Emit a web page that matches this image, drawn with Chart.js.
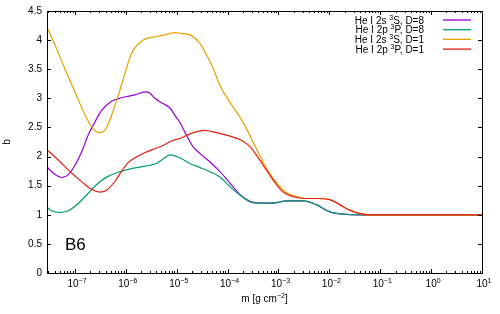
<!DOCTYPE html>
<html>
<head>
<meta charset="utf-8">
<script src="https://cdn.jsdelivr.net/npm/chart.js@4"></script>
<style>
  body { margin: 0; background: #fff; }
</style>
</head>
<body>
<canvas id="bgraph" width="500" height="314"></canvas>
<script>
// log10(m) and b values
const purpleLogM = [-7.55, -7.39, -7.26, -7.13, -7.00, -6.87, -6.74, -6.61, -6.48, -6.28, -6.09, -5.82, -5.62, -5.53, -5.43, -5.27, -5.13, -5.00, -4.94, -4.81, -4.68, -4.54, -4.35, -4.15, -3.95, -3.76, -3.56, -3.37, -3.17, -2.97, -2.84, -2.51, -2.25, -1.99, -1.73, -1.40, 1.0];
const purpleB    = [1.82, 1.69, 1.64, 1.69, 1.85, 2.08, 2.37, 2.59, 2.79, 2.95, 3.01, 3.06, 3.11, 3.09, 3.00, 2.91, 2.83, 2.66, 2.59, 2.37, 2.17, 2.05, 1.91, 1.74, 1.54, 1.35, 1.23, 1.20, 1.20, 1.22, 1.24, 1.24, 1.17, 1.05, 1.01, 1.0, 1.0];

const greenLogM = [-7.55, -7.46, -7.30, -7.13, -6.94, -6.74, -6.61, -6.48, -6.35, -6.15, -5.95, -5.72, -5.52, -5.38, -5.25, -5.13, -4.94, -4.74, -4.54, -4.35, -4.15, -3.95, -3.76, -3.56, -3.37, -3.17, -2.97, -2.84, -2.51, -2.25, -1.99, -1.73, -1.40, 1.0];
const greenB    = [1.13, 1.07, 1.04, 1.07, 1.19, 1.37, 1.49, 1.59, 1.66, 1.73, 1.78, 1.82, 1.85, 1.89, 1.97, 2.03, 1.98, 1.88, 1.81, 1.74, 1.65, 1.48, 1.34, 1.22, 1.20, 1.20, 1.22, 1.24, 1.24, 1.17, 1.05, 1.01, 1.0, 1.0];

const orangeLogM = [-7.55, -7.39, -7.20, -7.00, -6.80, -6.67, -6.54, -6.41, -6.28, -6.15, -6.02, -5.89, -5.66, -5.47, -5.27, -5.04, -4.88, -4.74, -4.54, -4.41, -4.28, -4.15, -4.02, -3.89, -3.76, -3.63, -3.50, -3.37, -3.23, -3.10, -2.97, -2.84, -2.71, -2.45, -2.25, -1.99, -1.79, -1.60, -1.40, -1.20, 1.0];
const orangeB    = [4.22, 3.91, 3.51, 3.11, 2.71, 2.51, 2.41, 2.45, 2.71, 3.05, 3.42, 3.77, 4.00, 4.05, 4.08, 4.13, 4.11, 4.09, 3.94, 3.74, 3.51, 3.22, 3.02, 2.85, 2.68, 2.48, 2.25, 2.02, 1.79, 1.62, 1.48, 1.38, 1.33, 1.28, 1.28, 1.26, 1.17, 1.08, 1.02, 1.0, 1.0];

const redLogM = [-7.55, -7.33, -7.07, -6.87, -6.70, -6.51, -6.38, -6.21, -6.09, -5.95, -5.82, -5.62, -5.45, -5.27, -5.07, -4.94, -4.74, -4.45, -4.22, -3.95, -3.73, -3.56, -3.43, -3.30, -3.17, -3.04, -2.91, -2.71, -2.45, -2.25, -1.99, -1.79, -1.60, -1.40, -1.20, 1.0];
const redB    = [2.12, 1.94, 1.72, 1.57, 1.45, 1.39, 1.42, 1.58, 1.74, 1.90, 1.98, 2.07, 2.13, 2.19, 2.28, 2.31, 2.39, 2.45, 2.41, 2.35, 2.28, 2.17, 2.02, 1.85, 1.68, 1.52, 1.39, 1.31, 1.28, 1.28, 1.26, 1.17, 1.08, 1.02, 1.0, 1.0];

// legend entries: [before superscript, superscript, after]
const labels = [["He I 2s ", "3", "S, D=8"], ["He I 2p ", "3", "P, D=8"], ["He I 2s ", "3", "S, D=1"], ["He I 2p ", "3", "P, D=1"]];
const colors = ["#9400d3", "#009e73", "#e69f00", "#e51e10"];

const xTickExps = [-7, -6, -5, -4, -3, -2, -1, 0, 1];
const yTicks = [0, 0.5, 1, 1.5, 2, 2.5, 3, 3.5, 4, 4.5];

const font = "'Liberation Sans', Arial, sans-serif";

function pts(logm, b) {
    return logm.map((e, i) => ({x: Math.pow(10, e), y: b[i]}));
}

// text with superscript parts; parts = [[text, isSup], ...]
function supText(ctx, parts, x, y, align) {
    const w = parts.map(p => {
        ctx.font = (p[1] ? "7px " : "10px ") + font;
        return ctx.measureText(p[0]).width;
    });
    const total = w.reduce((s, v) => s + v, 0);
    let cx = align === "right" ? x - total : align === "center" ? x - total / 2 : x;
    ctx.textAlign = "left";
    ctx.textBaseline = "alphabetic";
    parts.forEach((p, i) => {
        ctx.font = (p[1] ? "7px " : "10px ") + font;
        ctx.fillText(p[0], cx, p[1] ? y - 4 : y);
        cx += w[i];
    });
}

// frame, inward ticks on all sides, x labels, legend and panel label
const decorations = {
    id: "decorations",
    afterDatasetsDraw(chart) {
        const ctx = chart.ctx;
        const a = chart.chartArea;
        const xs = chart.scales.x;
        const ys = chart.scales.y;
        ctx.save();
        ctx.strokeStyle = "#000";
        ctx.lineWidth = 1;
        ctx.beginPath();
        for (let e = -8; e <= 1; e++) {
            for (let k = 1; k <= 9; k++) {
                const v = k * Math.pow(10, e);
                if (v < xs.min || v > xs.max * 1.0001) continue;
                const px = Math.round(xs.getPixelForValue(v)) + 0.5;
                const len = k === 1 ? 4 : 2;
                ctx.moveTo(px, a.bottom);
                ctx.lineTo(px, a.bottom - len);
                ctx.moveTo(px, a.top);
                ctx.lineTo(px, a.top + len);
            }
        }
        yTicks.forEach(v => {
            const py = Math.round(ys.getPixelForValue(v)) + 0.5;
            ctx.moveTo(a.left, py);
            ctx.lineTo(a.left + 4, py);
            ctx.moveTo(a.right, py);
            ctx.lineTo(a.right - 4, py);
        });
        ctx.stroke();
        ctx.strokeRect(Math.round(a.left) + 0.5, Math.round(a.top) + 0.5,
                       Math.round(a.right - a.left), Math.round(a.bottom - a.top));

        ctx.fillStyle = "#000";
        xTickExps.forEach(e => {
            const px = xs.getPixelForValue(Math.pow(10, e));
            supText(ctx, [["10", false], [String(e).replace("-", "\u2212"), true]], px + 2, 286.5, "center");
        });
        supText(ctx, [["m [g cm", false], ["\u22122", true], ["]", false]], (a.left + a.right) / 2, 302, "center");

        labels.forEach((t, i) => {
            const y = 20 + i * 9.7;
            ctx.fillStyle = "#000";
            supText(ctx, [[t[0], false], [t[1], true], [t[2], false]], 424, y + 3.5, "right");
            ctx.strokeStyle = colors[i];
            ctx.lineWidth = 1.3;
            ctx.beginPath();
            ctx.moveTo(443, y);
            ctx.lineTo(471, y);
            ctx.stroke();
        });

        ctx.font = "17px " + font;
        ctx.textAlign = "left";
        ctx.textBaseline = "alphabetic";
        ctx.fillStyle = "#000";
        ctx.fillText("B6", 65, 250);
        ctx.restore();
    }
};

const sets = [
    [purpleLogM, purpleB],
    [greenLogM, greenB],
    [orangeLogM, orangeB],
    [redLogM, redB]
];

new Chart(document.getElementById("bgraph"), {
    type: "line",
    data: {
        datasets: sets.map((s, i) => ({
            label: labels[i].join(""),
            data: pts(s[0], s[1]),
            borderColor: colors[i],
            backgroundColor: colors[i],
            borderWidth: 1.2,
            pointRadius: 0,
            cubicInterpolationMode: "monotone",
            order: 4 - i
        }))
    },
    options: {
        responsive: false,
        animation: false,
        layout: {padding: {top: 10, right: 18, left: 0, bottom: 0}},
        plugins: {legend: {display: false}, tooltip: {enabled: false}},
        scales: {
            x: {
                type: "logarithmic",
                min: Math.pow(10, -7.55),
                max: 10,
                afterFit: scale => { scale.height = 41; },
                grid: {display: false, drawTicks: false},
                border: {display: false},
                ticks: {display: false}
            },
            y: {
                min: 0,
                max: 4.5,
                afterBuildTicks: scale => {
                    scale.ticks = yTicks.map(v => ({value: v}));
                },
                afterFit: scale => { scale.width = 47; },
                grid: {display: false, drawTicks: false},
                border: {display: false},
                ticks: {
                    padding: 5,
                    color: "#000",
                    font: {family: font, size: 10},
                    callback: v => String(v)
                },
                title: {
                    display: true,
                    text: "b",
                    color: "#000",
                    font: {family: font, size: 10, lineHeight: 1.2},
                    padding: {top: 1.5, bottom: 0}
                }
            }
        }
    },
    plugins: [decorations]
});
</script>
</body>
</html>
